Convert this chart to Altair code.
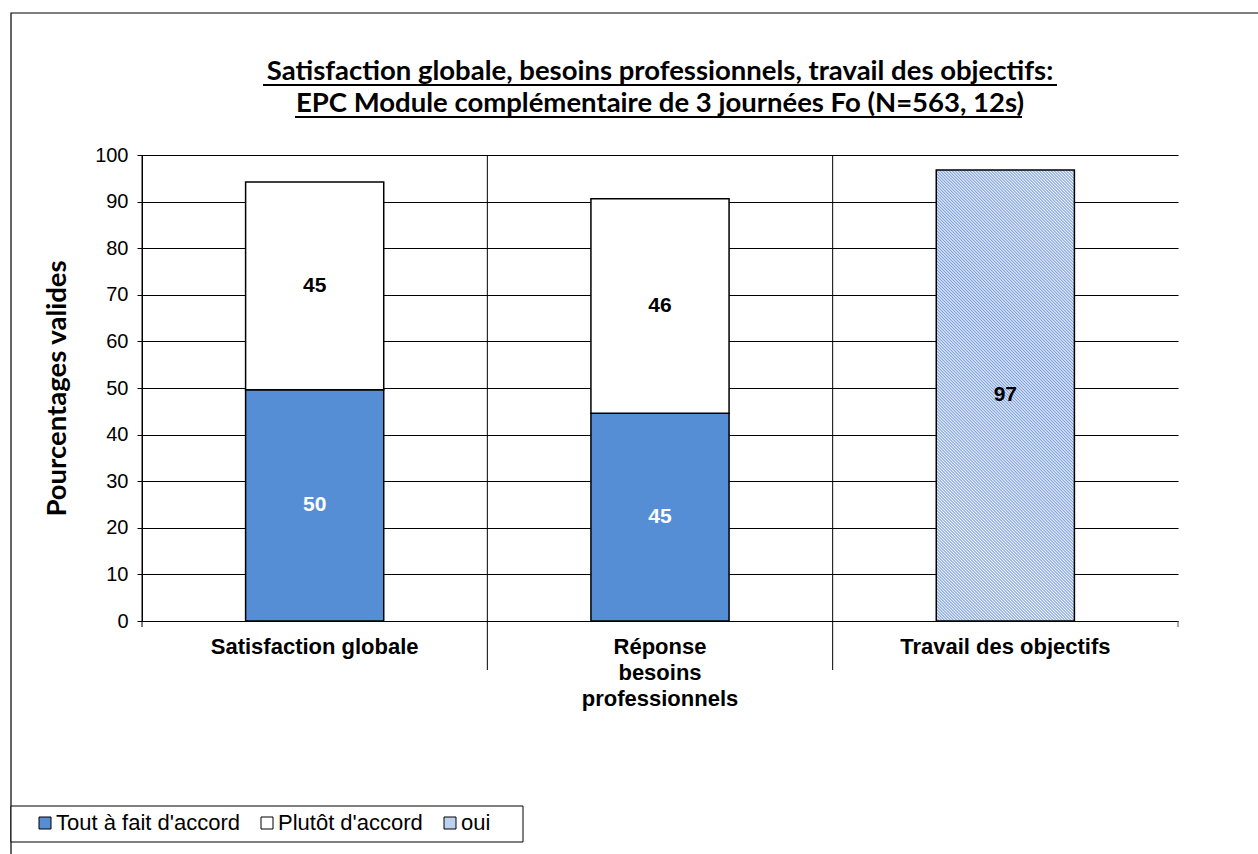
import altair as alt
import pandas as pd

# ---------------- data ----------------
TITLE_LINES = [
    " Satisfaction globale, besoins professionnels, travail des objectifs:",
    " EPC Module complémentaire de 3 journées Fo (N=563, 12s)",
]
Y_TITLE = "Pourcentages valides"
CATEGORIES = ["Satisfaction globale", "Réponse besoins professionnels", "Travail des objectifs"]
CATEGORY_LINES = [["Satisfaction globale"], ["Réponse", "besoins", "professionnels"], ["Travail des objectifs"]]
SERIES = ["Tout à fait d'accord", "Plutôt d'accord", "oui"]
TOUT_A_FAIT = [49.6, 44.6, None]
PLUTOT = [44.6, 46.0, None]
OUI = [None, None, 96.8]
Y_TICKS = list(range(0, 101, 10))

# ---------------- layout / style ----------------
W, H = 1036, 466
PAD = {"left": 142, "top": 155, "right": 80, "bottom": 233}
BLUE = "#558ed5"
HATCH_DARK = "#7c9fdd"
HATCH_LIGHT = "#eef3fb"
SANS = "Liberation Sans, Arial, sans-serif"
TITLE_FONT = "Lato, Open Sans, sans-serif"
TITLE_SIZE = 27.5

rows = []
for i, cat in enumerate(CATEGORIES):
    start = 0.0
    for s, vals in zip(SERIES, [TOUT_A_FAIT, PLUTOT, OUI]):
        v = vals[i]
        if v is None:
            continue
        rows.append({"category": cat, "series": s, "start": start, "end": start + v,
                     "mid": start + v / 2, "label": str(int(round(v)))})
        start += v
df = pd.DataFrame(rows)
df_stack = df[df.series != "oui"]
df_oui = df[df.series == "oui"]
df_white_lbl = df[df.series == "Tout à fait d'accord"]
df_black_lbl = df[df.series != "Tout à fait d'accord"]
df_sep = pd.DataFrame({"category": CATEGORIES[1:]})
df_first = pd.DataFrame({"category": CATEGORIES[:1]})

# fine 45-degree hatch as a linear gradient (soft triangle wave, ~3 px horizontal period)
bw = W / 3 * 0.4
bh = H * OUI[2] / 100
c = (bw + bh) / (bw ** 2 + bh ** 2)
n = int(round((bw + bh) / 3))
stops = []
for k in range(n):
    stops.append(alt.GradientStop(offset=k / n, color=HATCH_DARK))
    stops.append(alt.GradientStop(offset=(k + 0.5) / n, color=HATCH_LIGHT))
stops.append(alt.GradientStop(offset=1, color=HATCH_DARK))
hatch = alt.LinearGradient(gradient="linear", stops=stops, x1=0, y1=1, x2=c * bw, y2=1 - c * bh)

# ---------------- scales / axes ----------------
label_expr = " : ".join(
    [f"datum.label == '{cat}' ? {lines!r}" for cat, lines in zip(CATEGORIES, CATEGORY_LINES)]
) + " : datum.label"
x_axis = alt.Axis(title=None, labelAngle=0, labelFont=SANS, labelFontWeight="bold", labelFontSize=22,
                  labelColor="black", labelPadding=15, labelBaseline="top", labelLineHeight=26,
                  labelExpr=label_expr, ticks=False, domainColor="black", domainWidth=1, grid=False,
                  labelLimit=0)
x_scale = alt.Scale(domain=CATEGORIES, paddingInner=0, paddingOuter=0)
y_axis = alt.Axis(values=Y_TICKS, title=Y_TITLE, titleFont=TITLE_FONT, titleFontSize=TITLE_SIZE,
                  titleFontWeight="bold", titleColor="black", titleAngle=270, titleX=-85, titleY=H / 2,
                  titleAlign="center", titleBaseline="middle", labelFont=SANS, labelFontSize=20,
                  labelColor="black", labelPadding=9, tickSize=5, tickColor="black",
                  domainColor="black", gridColor="black", gridWidth=1, grid=True)
y_scale = alt.Scale(domain=[0, 100], nice=False)


def X(**kw):
    return alt.X("category:N", scale=x_scale, axis=x_axis, **kw)


def Y(field):
    return alt.Y(f"{field}:Q", scale=y_scale, axis=y_axis)


one = alt.Data(values=[{"k": 0}])

frame = alt.Chart(one).mark_rect(fill="transparent", stroke="black", strokeWidth=1.2).encode(
    x=alt.value(-131), x2=alt.value(1300), y=alt.value(-142), y2=alt.value(900))

bars = alt.Chart(df_stack).mark_bar(width=alt.RelativeBandSize(0.4), stroke="black", strokeWidth=1.5,
                                    opacity=1).encode(
    x=X(), y=Y("start"), y2="end:Q",
    color=alt.Color("series:N", scale=alt.Scale(domain=SERIES, range=[BLUE, "white", "#bcd0ef"]),
                    legend=alt.Legend(orient="none", legendX=-108, legendY=657, direction="horizontal",
                                      title=None, symbolType="square", symbolSize=144,
                                      symbolStrokeColor="black", symbolStrokeWidth=1, symbolOpacity=1,
                                      labelFont=SANS, labelFontSize=22, labelColor="black",
                                      labelOffset=0, columnPadding=16, labelLimit=0, padding=0)))

oui_bar = alt.Chart(df_oui).mark_bar(width=alt.RelativeBandSize(0.4), stroke="black", strokeWidth=1.5,
                                     fill=hatch).encode(x=X(), y=Y("start"), y2="end:Q")

lbl_w = alt.Chart(df_white_lbl).mark_text(font=SANS, fontWeight="bold", fontSize=21, color="white",
                                          baseline="middle").encode(x=X(), y=Y("mid"), text="label:N")
lbl_b = alt.Chart(df_black_lbl).mark_text(font=SANS, fontWeight="bold", fontSize=21, color="black",
                                          baseline="middle").encode(x=X(), y=Y("mid"), text="label:N")

seps = alt.Chart(df_sep).mark_rule(color="black", strokeWidth=1).encode(
    x=X(bandPosition=0), y=alt.value(0), y2=alt.value(515))
first_tick = alt.Chart(df_first).mark_rule(color="black", strokeWidth=1).encode(
    x=X(bandPosition=0), y=alt.value(0), y2=alt.value(H + 6))
end_tick = alt.Chart(one).mark_rule(color="#555555", strokeWidth=1).encode(
    x=alt.value(W), y=alt.value(H), y2=alt.value(H + 6))

title1 = alt.Chart(one).mark_text(font=TITLE_FONT, fontWeight="bold", fontSize=TITLE_SIZE, color="black",
                                  baseline="alphabetic").encode(
    x=alt.value(W / 2), y=alt.value(80 - 155), text=alt.value(TITLE_LINES[0]))
title2 = alt.Chart(one).mark_text(font=TITLE_FONT, fontWeight="bold", fontSize=TITLE_SIZE, color="black",
                                  baseline="alphabetic").encode(
    x=alt.value(W / 2), y=alt.value(112 - 155), text=alt.value(TITLE_LINES[1]))
ul1 = alt.Chart(one).mark_rule(color="black", strokeWidth=2).encode(
    x=alt.value(263 - 142), x2=alt.value(1057 - 142), y=alt.value(85 - 155))
ul2 = alt.Chart(one).mark_rule(color="black", strokeWidth=2).encode(
    x=alt.value(295 - 142), x2=alt.value(1022 - 142), y=alt.value(117 - 155))

legend_box = alt.Chart(one).mark_rect(fill="white", stroke="black", strokeWidth=1).encode(
    x=alt.value(11 - 142), x2=alt.value(523 - 142), y=alt.value(806 - 155), y2=alt.value(842 - 155))

chart = alt.layer(frame, legend_box, bars, oui_bar, lbl_w, lbl_b, seps, first_tick, end_tick,
                  title1, title2, ul1, ul2).properties(
    width=W, height=H, padding=PAD, autosize=alt.AutoSizeParams(type="none"),
    background="white").configure_view(strokeWidth=0)

chart.save("out.html", embed_options={"renderer": "svg", "actions": False})
